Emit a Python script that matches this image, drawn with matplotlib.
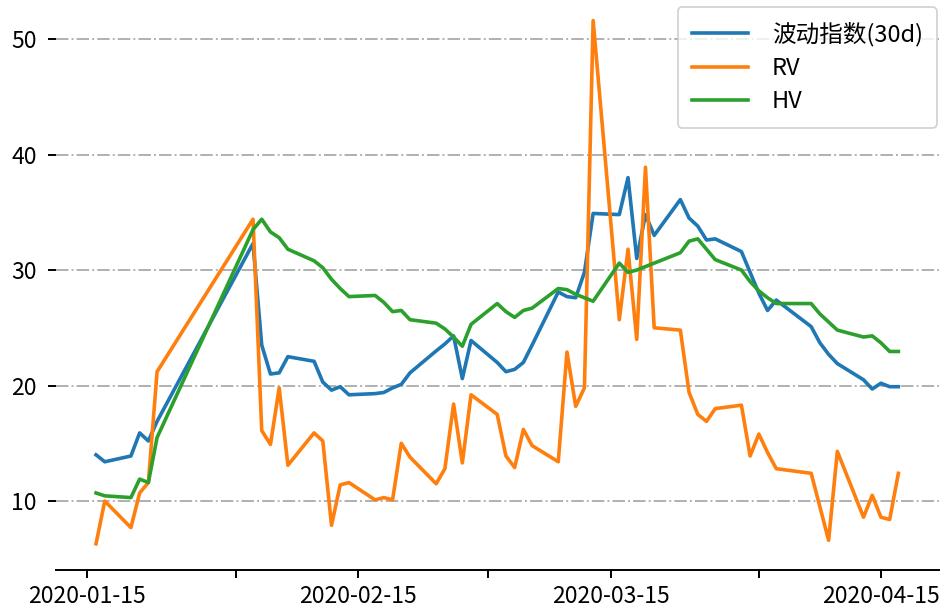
import matplotlib
matplotlib.use("Agg")
import matplotlib.pyplot as plt
import pandas as pd

# trading days shown in the chart
dates = [
    "2020-01-16", "2020-01-17", "2020-01-20", "2020-01-21", "2020-01-22", "2020-01-23",
    "2020-02-03", "2020-02-04", "2020-02-05", "2020-02-06", "2020-02-07",
    "2020-02-10", "2020-02-11", "2020-02-12", "2020-02-13", "2020-02-14",
    "2020-02-17", "2020-02-18", "2020-02-19", "2020-02-20", "2020-02-21",
    "2020-02-24", "2020-02-25", "2020-02-26", "2020-02-27", "2020-02-28",
    "2020-03-02", "2020-03-03", "2020-03-04", "2020-03-05", "2020-03-06",
    "2020-03-09", "2020-03-10", "2020-03-11", "2020-03-12", "2020-03-13",
    "2020-03-16", "2020-03-17", "2020-03-18", "2020-03-19", "2020-03-20",
    "2020-03-23", "2020-03-24", "2020-03-25", "2020-03-26", "2020-03-27",
    "2020-03-30", "2020-03-31", "2020-04-01", "2020-04-02", "2020-04-03",
    "2020-04-07", "2020-04-08", "2020-04-09", "2020-04-10",
    "2020-04-13", "2020-04-14", "2020-04-15", "2020-04-16", "2020-04-17",
]

vol_index = [
    14.0, 13.4, 13.9, 15.9, 15.2, 16.9,
    32.3, 23.5, 21.0, 21.1, 22.5,
    22.1, 20.3, 19.6, 19.9, 19.2,
    19.3, 19.4, 19.8, 20.1, 21.1,
    23.0, 23.6, 24.3, 20.6, 23.9,
    22.0, 21.2, 21.4, 22.0, 23.5,
    28.1, 27.7, 27.6, 29.8, 34.9,
    34.8, 38.0, 31.0, 34.8, 33.0,
    36.1, 34.5, 33.8, 32.6, 32.7,
    31.6, 29.8, 28.0, 26.5, 27.4,
    25.1, 23.7, 22.7, 21.9,
    20.5, 19.7, 20.2, 19.9, 19.9,
]

rv = [
    6.3, 10.0, 7.7, 10.7, 11.6, 21.2,
    34.4, 16.1, 14.9, 19.8, 13.1,
    15.9, 15.2, 7.9, 11.4, 11.6,
    10.1, 10.3, 10.1, 15.0, 13.8,
    11.5, 12.8, 18.4, 13.3, 19.2,
    17.5, 13.9, 12.9, 16.2, 14.8,
    13.4, 22.9, 18.2, 19.8, 51.6,
    25.7, 31.8, 24.0, 38.9, 25.0,
    24.8, 19.4, 17.5, 16.9, 18.0,
    18.3, 13.9, 15.8, 14.2, 12.8,
    12.4, 9.5, 6.6, 14.3,
    8.6, 10.5, 8.6, 8.4, 12.4,
]

hv = [
    10.7, 10.45, 10.3, 11.9, 11.6, 15.5,
    33.5, 34.4, 33.3, 32.8, 31.8,
    30.8, 30.2, 29.2, 28.4, 27.7,
    27.8, 27.2, 26.4, 26.5, 25.7,
    25.4, 24.9, 24.2, 23.4, 25.3,
    27.1, 26.4, 25.9, 26.5, 26.7,
    28.4, 28.3, 27.9, 27.6, 27.3,
    30.6, 29.8, 30.0, 30.3, 30.6,
    31.5, 32.5, 32.7, 31.8, 30.9,
    30.0, 29.0, 28.2, 27.6, 27.1,
    27.1, 26.2, 25.5, 24.8,
    24.2, 24.3, 23.7, 22.95, 22.95,
]

tick_dates = ["2020-01-15", "2020-02-01", "2020-02-15", "2020-03-01",
              "2020-03-15", "2020-04-01", "2020-04-15"]
tick_labels = ["2020-01-15", "", "2020-02-15", "", "2020-03-15", "", "2020-04-15"]

plt.rcParams["font.family"] = ["Noto Sans CJK SC", "DejaVu Sans"]

x = pd.to_datetime(dates)

fig = plt.figure(figsize=(9.47, 6.09), dpi=100)
ax = fig.add_axes([56 / 947, 39 / 609, (938.5 - 56) / 947, 1 - 39 / 609])

ax.plot(x, vol_index, color="#1f77b4", lw=2.6, label="波动指数(30d)")
ax.plot(x, rv, color="#ff7f0e", lw=2.6, label="RV")
ax.plot(x, hv, color="#2ca02c", lw=2.6, label="HV")

ax.set_xlim(pd.Timestamp("2020-01-11 09:50"), pd.Timestamp("2020-04-21 14:24"))
ax.set_ylim(4.03, 53.38)

ax.set_xticks(pd.to_datetime(tick_dates))
ax.set_xticklabels(tick_labels)
ax.set_yticks([10, 20, 30, 40, 50])

ax.tick_params(axis="both", labelsize=16.5, length=6, width=1.4, color="black")
ax.tick_params(axis="y", pad=8)
ax.tick_params(axis="x", pad=5)

ax.yaxis.grid(True, linestyle="-.", color="#b0b0b0", lw=1.4)
ax.set_axisbelow(True)

for side in ["left", "top", "right"]:
    ax.spines[side].set_visible(False)
ax.spines["bottom"].set_linewidth(1.4)

leg = ax.legend(loc="upper right", fontsize=17, handlelength=2.4,
                handletextpad=1.0, borderpad=0.6, labelspacing=0.45,
                borderaxespad=0.0, bbox_to_anchor=(0.9985, 0.987))
leg.get_frame().set_edgecolor("#c8c8c8")
leg.get_frame().set_linewidth(1.3)

fig.savefig("out.png", dpi=100)
